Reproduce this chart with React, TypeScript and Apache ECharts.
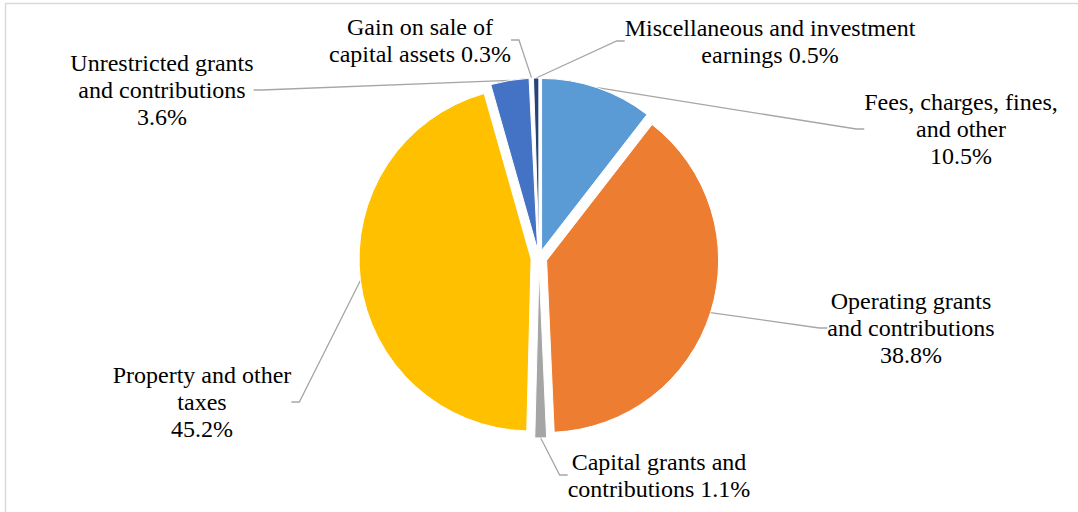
import React, { useEffect, useRef } from "react";
import * as echarts from "echarts";

const categories = [
  "Fees, charges, fines, and other",
  "Operating grants and contributions",
  "Capital grants and contributions",
  "Property and other taxes",
  "Unrestricted grants and contributions",
  "Gain on sale of capital assets",
  "Miscellaneous and investment earnings",
];
const values = [10.5, 38.8, 1.1, 45.2, 3.6, 0.3, 0.5];
const labelTemplates = [
  "Fees, charges, fines,\nand other\n{p}",
  "Operating grants\nand contributions\n{p}",
  "Capital grants and\ncontributions {p}",
  "Property and other\ntaxes\n{p}",
  "Unrestricted grants\nand contributions\n{p}",
  "Gain on sale of\ncapital assets {p}",
  "Miscellaneous and investment\nearnings {p}",
];
const colors = ["#5B9BD5", "#ED7D31", "#A5A5A5", "#FFC000", "#4472C4", "#FFFFFF", "#264478"];
const labelPos: [number, number][] = [
  [961, 129],
  [911, 328],
  [659, 475],
  [202, 402],
  [162, 90],
  [420, 40],
  [770, 41],
];

export default function App() {
  const ref = useRef<HTMLDivElement>(null);
  useEffect(() => {
    const chart = echarts.init(ref.current!, null, { renderer: "svg" });
    const center = [539, 258];
    chart.setOption({
      animation: false,
      backgroundColor: "#ffffff",
      graphic: [
        {
          type: "rect",
          shape: { x: 5.5, y: 3.5, width: 1100, height: 600 },
          style: { fill: "none", stroke: "#D9D9D9", lineWidth: 1.5 },
          silent: true,
        },
      ],
      series: [
        {
          type: "pie",
          name: "slices",
          center,
          radius: 172,
          startAngle: 90,
          clockwise: true,
          selectedMode: "multiple",
          selectedOffset: 8,
          avoidLabelOverlap: false,
          silent: true,
          data: categories.map((name, i) => ({
            name,
            value: values[i],
            selected: true,
            itemStyle: { color: colors[i] },
            select: { itemStyle: { color: colors[i] } },
          })),
          itemStyle: { borderColor: "#ffffff", borderWidth: 1 },
          label: { show: false },
          labelLine: { show: false },
          emphasis: { disabled: true },
        },
        {
          type: "pie",
          name: "labels",
          center,
          radius: 180,
          startAngle: 90,
          clockwise: true,
          avoidLabelOverlap: false,
          silent: true,
          z: 1,
          data: categories.map((name, i) => ({
            name,
            value: values[i],
          })),
          itemStyle: { color: "rgba(0,0,0,0)", borderWidth: 0 },
          label: {
            show: true,
            position: "outside",
            formatter: (p: any) =>
              labelTemplates[p.dataIndex].replace("{p}", values[p.dataIndex].toFixed(1) + "%"),
            fontFamily: "Liberation Serif",
            fontSize: 24,
            lineHeight: 27,
            color: "#000000",
            align: "center",
          },
          labelLine: {
            show: true,
            length: 10,
            length2: 8,
            lineStyle: { color: "#A6A6A6", width: 1.3 },
          },
          labelLayout: (params: any) => {
            const pos = labelPos[params.dataIndex];
            return { x: pos[0], y: pos[1], align: "center", verticalAlign: "middle" };
          },
          emphasis: { disabled: true },
        },
      ],
    });
    return () => chart.dispose();
  }, []);
  return (
    <div
      ref={ref}
      style={{ position: "fixed", left: 0, top: 0, width: 1078, height: 512 }}
    />
  );
}
